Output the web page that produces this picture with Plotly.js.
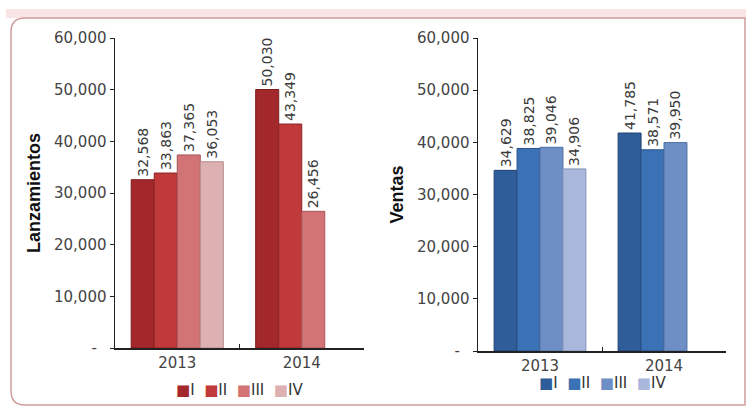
<!DOCTYPE html>
<html>
<head>
<meta charset="utf-8">
<script src="https://cdn.plot.ly/plotly-3.0.1.min.js"></script>
<style>
  html, body { margin: 0; padding: 0; background: #ffffff; }
  #chart { width: 746px; height: 407px; }
</style>
</head>
<body>
<div id="chart"></div>
<script>
// Quarterly figures per year
const years = ['2013', '2014'];
const quarters = ['I', 'II', 'III', 'IV'];

// Lanzamientos by quarter (index = quarter, entries = years)
const lanzI   = [32568, 50030];
const lanzII  = [33863, 43349];
const lanzIII = [37365, 26456];
const lanzIV  = [36053, null];

// Ventas by quarter
const ventI   = [34629, 41785];
const ventII  = [38825, 38571];
const ventIII = [39046, 39950];
const ventIV  = [34906, null];

// Shared value-axis ticks
const yTickVals = [0, 10000, 20000, 30000, 40000, 50000, 60000];
const yTickText = ['-\u00a0\u00a0', '10,000', '20,000', '30,000', '40,000', '50,000', '60,000'];

const redColors  = ['#a3282b', '#c0393b', '#d27476', '#ddb0b2'];
const redLines   = ['#7a1a1c', '#8e2426', '#a85456', '#b58c8e'];
const blueColors = ['#2f5d9a', '#3b72b6', '#6e8fc6', '#aab7dc'];
const blueLines  = ['#1f4070', '#28528a', '#4e6ea2', '#8593b8'];

const W = 746, H = 407;
const px = v => v / W;
const py = v => 1 - v / H;

function barTrace(name, values, color, line, xa, ya) {
  return {
    type: 'bar',
    name: name,
    x: years,
    y: values,
    xaxis: xa,
    yaxis: ya,
    marker: { color: color, line: { color: line, width: 1 } },
    texttemplate: '%{y:,}',
    textposition: 'outside',
    textangle: -90,
    constraintext: 'none',
    cliponaxis: false,
    textfont: { family: 'DejaVu Sans', size: 14, color: '#3a3a3a' },
    hoverinfo: 'skip',
    showlegend: false
  };
}

const lanzSeries = [lanzI, lanzII, lanzIII, lanzIV];
const ventSeries = [ventI, ventII, ventIII, ventIV];

const data = [];
lanzSeries.forEach((s, i) => data.push(barTrace(quarters[i], s, redColors[i], redLines[i], 'x', 'y')));
ventSeries.forEach((s, i) => data.push(barTrace(quarters[i], s, blueColors[i], blueLines[i], 'x2', 'y2')));

const tickFont = { family: 'DejaVu Sans', size: 15, color: '#444444' };
const catFont  = { family: 'DejaVu Sans', size: 15, color: '#444444' };
const titleFont = { family: 'Liberation Sans', size: 18, color: '#111111', weight: 'bold' };

function xAxis(domain, anchor) {
  return {
    domain: domain,
    anchor: anchor,
    type: 'category',
    range: [-0.5, 1.5],
    showline: true, linecolor: '#222222', linewidth: 1.5,
    showgrid: false, zeroline: false,
    ticks: 'inside', tickson: 'boundaries', ticklen: 4, tickcolor: '#222222',
    tickfont: catFont,
    fixedrange: true
  };
}
function yAxis(domain, anchor, title) {
  return {
    domain: domain,
    anchor: anchor,
    range: [0, 60000],
    showline: true, linecolor: '#222222', linewidth: 1.5,
    showgrid: false, zeroline: false,
    ticks: 'outside', ticklen: 4, tickcolor: '#222222',
    tickvals: yTickVals, ticktext: yTickText,
    tickfont: tickFont,
    title: { text: title, font: titleFont, standoff: 8 },
    fixedrange: true
  };
}

// Legend rows built from the series names and colours
function legendText(colors) {
  return quarters.map((q, i) =>
    '<span style="color:' + colors[i] + '">\u25A0</span><span style="color:#333333">' + q + '</span>'
  ).join('\u00a0\u00a0');
}

const layout = {
  width: W, height: H,
  margin: { l: 0, r: 0, t: 0, b: 0 },
  paper_bgcolor: '#ffffff',
  plot_bgcolor: 'rgba(0,0,0,0)',
  barmode: 'group',
  bargap: 0.26,
  bargroupgap: 0,
  showlegend: false,
  xaxis:  xAxis([px(115), px(364)], 'y'),
  yaxis:  yAxis([py(348), py(38)], 'x', 'Lanzamientos'),
  xaxis2: xAxis([px(478), px(726)], 'y2'),
  yaxis2: yAxis([py(351), py(38)], 'x2', 'Ventas'),
  annotations: [
    {
      xref: 'x domain', yref: 'paper', x: 0.5, y: py(390),
      xanchor: 'center', yanchor: 'middle', showarrow: false,
      text: legendText(redColors),
      font: { family: 'DejaVu Sans', size: 15, color: '#333333' }
    },
    {
      xref: 'x2 domain', yref: 'paper', x: 0.5, y: py(383),
      xanchor: 'center', yanchor: 'middle', showarrow: false,
      text: legendText(blueColors),
      font: { family: 'DejaVu Sans', size: 15, color: '#333333' }
    }
  ],
  shapes: [
    // pink header band
    {
      type: 'rect', xref: 'paper', yref: 'paper', layer: 'below',
      x0: px(6), x1: 1, y0: py(18), y1: py(9),
      fillcolor: '#fbe4e4', line: { width: 0 }
    },
    // rounded panel frame
    {
      type: 'path', xref: 'paper', yref: 'paper', layer: 'below',
      path: (() => {
        const l = px(11), r = px(745), t = py(18), b = py(405);
        const rx = 14 / W, ry = 14 / H;
        return 'M' + (l + rx) + ',' + t +
          ' L' + r + ',' + t +
          ' L' + r + ',' + b +
          ' L' + (l + rx) + ',' + b +
          ' Q' + l + ',' + b + ' ' + l + ',' + (b + ry) +
          ' L' + l + ',' + (t - ry) +
          ' Q' + l + ',' + t + ' ' + (l + rx) + ',' + t + ' Z';
      })(),
      fillcolor: '#ffffff',
      line: { color: '#cf9c9c', width: 1.5 }
    }
  ]
};

Plotly.newPlot('chart', data, layout, { displayModeBar: false, staticPlot: true });
</script>
</body>
</html>
